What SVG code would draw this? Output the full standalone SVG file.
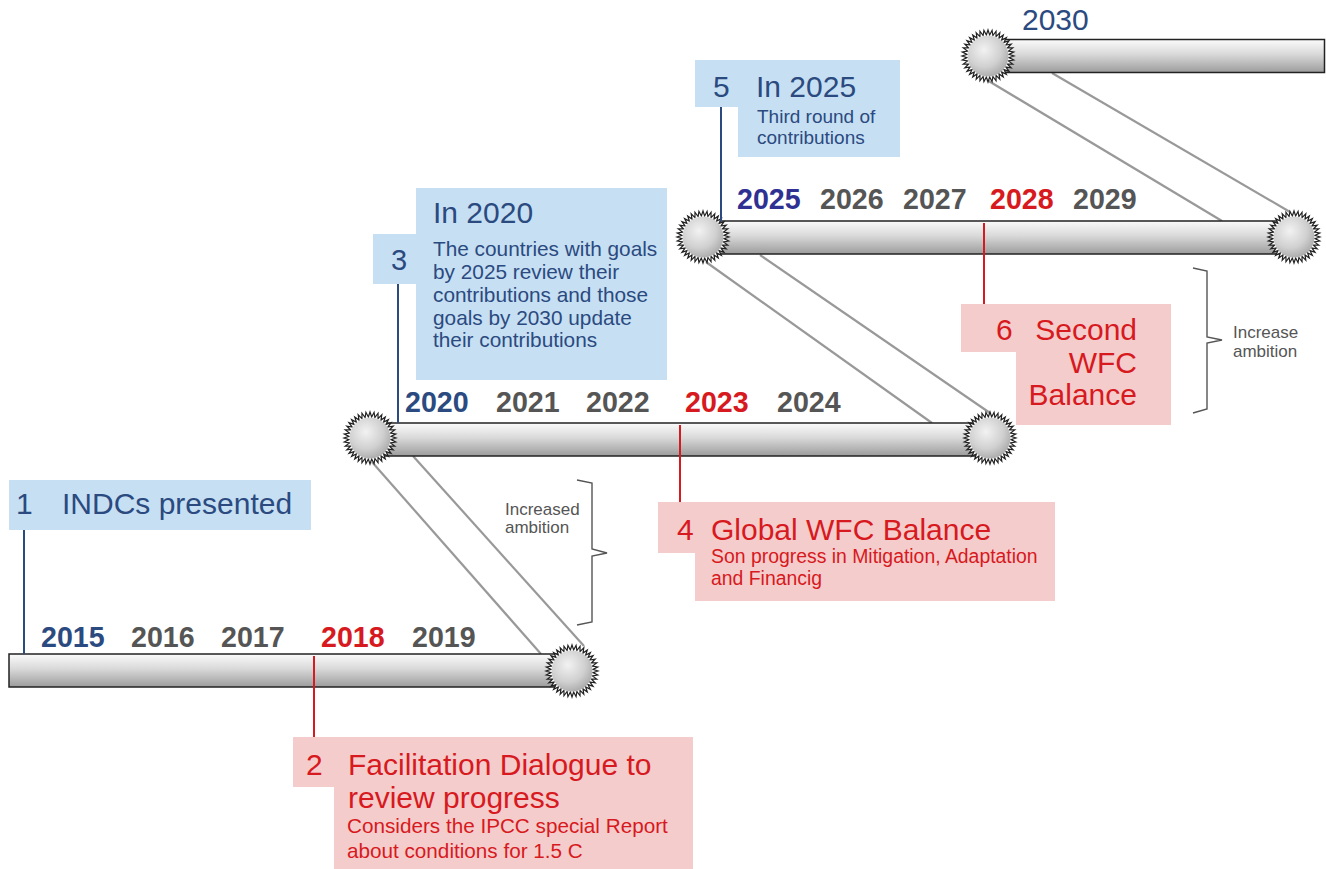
<svg xmlns="http://www.w3.org/2000/svg" xmlns:xlink="http://www.w3.org/1999/xlink" width="1326" height="869" viewBox="0 0 1326 869">
<style>
text{font-family:"Liberation Sans",Arial,sans-serif}
.blue{fill:#2b4a7f}
.red{fill:#d71920}
.gray{fill:#555555}
.yr{font-size:28.6px;font-weight:bold}
.big{font-size:30px}
.note{font-size:17px;fill:#555555}
.bbox{fill:#c6dff3}
.pbox{fill:#f5cccc}
.bar{fill:url(#barGrad);stroke:#222;stroke-width:1.5}
.conn{stroke:#999;stroke-width:2.2;fill:none}
.bl{stroke:#2b4a7f;stroke-width:2}
.rl{stroke:#d71920;stroke-width:2}
.brk{fill:none;stroke:#555;stroke-width:1.4}
</style>
<defs>
<linearGradient id="barGrad" x1="0" y1="0" x2="0" y2="1">
<stop offset="0" stop-color="#fbfbfb"/>
<stop offset="0.45" stop-color="#d9d9d9"/>
<stop offset="1" stop-color="#9c9c9c"/>
</linearGradient>
<radialGradient id="gearGrad" cx="0.4" cy="0.35" r="0.7">
<stop offset="0" stop-color="#f2f2f2"/>
<stop offset="0.6" stop-color="#d0d0d0"/>
<stop offset="1" stop-color="#a8a8a8"/>
</radialGradient>
<symbol id="gear" overflow="visible">
<polygon fill="#ffffff" stroke="#222" stroke-width="1.2" points="26,0 20.94,1.65 25.68,4.07 20.42,4.90 24.73,8.03 19.40,8.04 23.17,11.80 17.91,10.97 21.03,15.28 15.97,13.64 18.38,18.38 13.64,15.97 15.28,21.03 10.97,17.91 11.80,23.17 8.04,19.40 8.03,24.73 4.90,20.42 4.07,25.68 1.65,20.94 0,26 -1.65,20.94 -4.07,25.68 -4.90,20.42 -8.03,24.73 -8.04,19.40 -11.80,23.17 -10.97,17.91 -15.28,21.03 -13.64,15.97 -18.38,18.38 -15.97,13.64 -21.03,15.28 -17.91,10.97 -23.17,11.80 -19.40,8.04 -24.73,8.03 -20.42,4.90 -25.68,4.07 -20.94,1.65 -26,0 -20.94,-1.65 -25.68,-4.07 -20.42,-4.90 -24.73,-8.03 -19.40,-8.04 -23.17,-11.80 -17.91,-10.97 -21.03,-15.28 -15.97,-13.64 -18.38,-18.38 -13.64,-15.97 -15.28,-21.03 -10.97,-17.91 -11.80,-23.17 -8.04,-19.40 -8.03,-24.73 -4.90,-20.42 -4.07,-25.68 -1.65,-20.94 0,-26 1.65,-20.94 4.07,-25.68 4.90,-20.42 8.03,-24.73 8.04,-19.40 11.80,-23.17 10.97,-17.91 15.28,-21.03 13.64,-15.97 18.38,-18.38 15.97,-13.64 21.03,-15.28 17.91,-10.97 23.17,-11.80 19.40,-8.04 24.73,-8.03 20.42,-4.90 25.68,-4.07 20.94,-1.65"/>
<circle r="20.5" fill="url(#gearGrad)"/>
</symbol>
</defs>
<rect width="1326" height="869" fill="#ffffff"/>

<g id="connectors">
<line class="conn" x1="372" y1="462" x2="541" y2="654"/>
<line class="conn" x1="413" y1="456" x2="584" y2="646"/>
<line class="conn" x1="706" y1="262" x2="932" y2="423"/>
<line class="conn" x1="760" y1="255" x2="990" y2="413"/>
<line class="conn" x1="987" y1="80" x2="1222" y2="221"/>
<line class="conn" x1="1052" y1="73" x2="1290" y2="212"/>
</g>

<g id="timeline1">
<rect class="bar" x="9" y="654" width="563" height="33"/>
<use xlink:href="#gear" href="#gear" x="572" y="671"/>
<text class="yr blue" x="41" y="647">2015</text>
<text class="yr gray" x="131" y="647">2016</text>
<text class="yr gray" x="221" y="647">2017</text>
<text class="yr red" x="321" y="647">2018</text>
<text class="yr gray" x="412" y="647">2019</text>
</g>

<g id="timeline2">
<rect class="bar" x="370" y="423" width="620" height="33"/>
<use xlink:href="#gear" href="#gear" x="370" y="438"/>
<use xlink:href="#gear" href="#gear" x="990" y="438"/>
<text class="yr blue" x="405" y="412">2020</text>
<text class="yr gray" x="496" y="412">2021</text>
<text class="yr gray" x="586" y="412">2022</text>
<text class="yr red" x="685" y="412">2023</text>
<text class="yr gray" x="777" y="412">2024</text>
</g>

<g id="timeline3">
<rect class="bar" x="703" y="221" width="590" height="33"/>
<use xlink:href="#gear" href="#gear" x="703" y="237"/>
<use xlink:href="#gear" href="#gear" x="1294" y="237"/>
<text class="yr" fill="#2e3192" x="737" y="209">2025</text>
<text class="yr gray" x="820" y="209">2026</text>
<text class="yr gray" x="903" y="209">2027</text>
<text class="yr red" x="990" y="209">2028</text>
<text class="yr gray" x="1073" y="209">2029</text>
</g>

<g id="timeline4">
<rect class="bar" x="988" y="39.5" width="336.5" height="33"/>
<use xlink:href="#gear" href="#gear" x="988" y="56"/>
<text class="big blue" x="1022" y="30">2030</text>
</g>

<g id="node1">
<line class="bl" x1="24" y1="530" x2="24" y2="654"/>
<rect class="bbox" x="9" y="480" width="302" height="50"/>
<text class="big blue" x="16" y="514">1</text>
<text class="big blue" x="62" y="514">INDCs presented</text>
</g>

<g id="node2">
<line class="rl" x1="314" y1="656" x2="314" y2="737"/>
<path class="pbox" d="M293,737 H693 V869 H334 V787 H293 Z"/>
<text class="big red" x="306" y="775">2</text>
<text class="big red" x="348" y="775">Facilitation Dialogue to</text>
<text class="big red" x="348" y="808">review progress</text>
<text class="red" font-size="20.7" x="347" y="833">Considers the IPCC special Report</text>
<text class="red" font-size="20.7" x="347" y="858">about conditions for 1.5 C</text>
</g>

<g id="node3">
<line class="bl" x1="398" y1="284" x2="398" y2="423"/>
<path class="bbox" d="M416,188 H667 V380 H416 V284 H373 V234 H416 Z"/>
<text class="blue" font-size="29" x="391" y="270">3</text>
<text class="big blue" x="433" y="223">In 2020</text>
<text class="blue" font-size="20.8" x="433" y="256">The countries with goals</text>
<text class="blue" font-size="20.8" x="433" y="279">by 2025 review their</text>
<text class="blue" font-size="20.8" x="433" y="302">contributions and those</text>
<text class="blue" font-size="20.8" x="433" y="325">goals by 2030 update</text>
<text class="blue" font-size="20.8" x="433" y="347">their contributions</text>
</g>

<g id="node4">
<line class="rl" x1="680" y1="425" x2="680" y2="502"/>
<path class="pbox" d="M658,502 H1055 V601 H695 V553 H658 Z"/>
<text class="big red" x="677" y="540">4</text>
<text class="big red" x="711" y="540">Global WFC Balance</text>
<text class="red" font-size="19.4" x="711" y="563">Son progress in Mitigation, Adaptation</text>
<text class="red" font-size="19.4" x="711" y="585">and Financig</text>
</g>

<g id="node5">
<line class="bl" x1="721" y1="107" x2="721" y2="221"/>
<path class="bbox" d="M695,60 H900 V157 H738 V107 H695 Z"/>
<text class="big blue" x="713" y="97">5</text>
<text class="big blue" x="756" y="97">In 2025</text>
<text class="blue" font-size="19" x="757" y="123">Third round of</text>
<text class="blue" font-size="19" x="757" y="144">contributions</text>
</g>

<g id="node6">
<line class="rl" x1="984" y1="223" x2="984" y2="304"/>
<path class="pbox" d="M961,304 H1171 V425 H1016 V352 H961 Z"/>
<text class="big red" x="996" y="340">6</text>
<text class="big red" x="1137" y="340" text-anchor="end">Second</text>
<text class="big red" x="1137" y="373" text-anchor="end">WFC</text>
<text class="big red" x="1137" y="405" text-anchor="end">Balance</text>
</g>

<g id="bracket1">
<polyline class="brk" points="577,480 592,483 592,549 607,553 592,556 592,622 577,625"/>
<text class="note" x="505" y="515">Increased</text>
<text class="note" x="505" y="533">ambition</text>
</g>

<g id="bracket2">
<polyline class="brk" points="1193,268 1207,271 1207,337 1222,340 1207,343 1207,409 1193,413"/>
<text class="note" x="1233" y="338">Increase</text>
<text class="note" x="1233" y="357">ambition</text>
</g>
</svg>
